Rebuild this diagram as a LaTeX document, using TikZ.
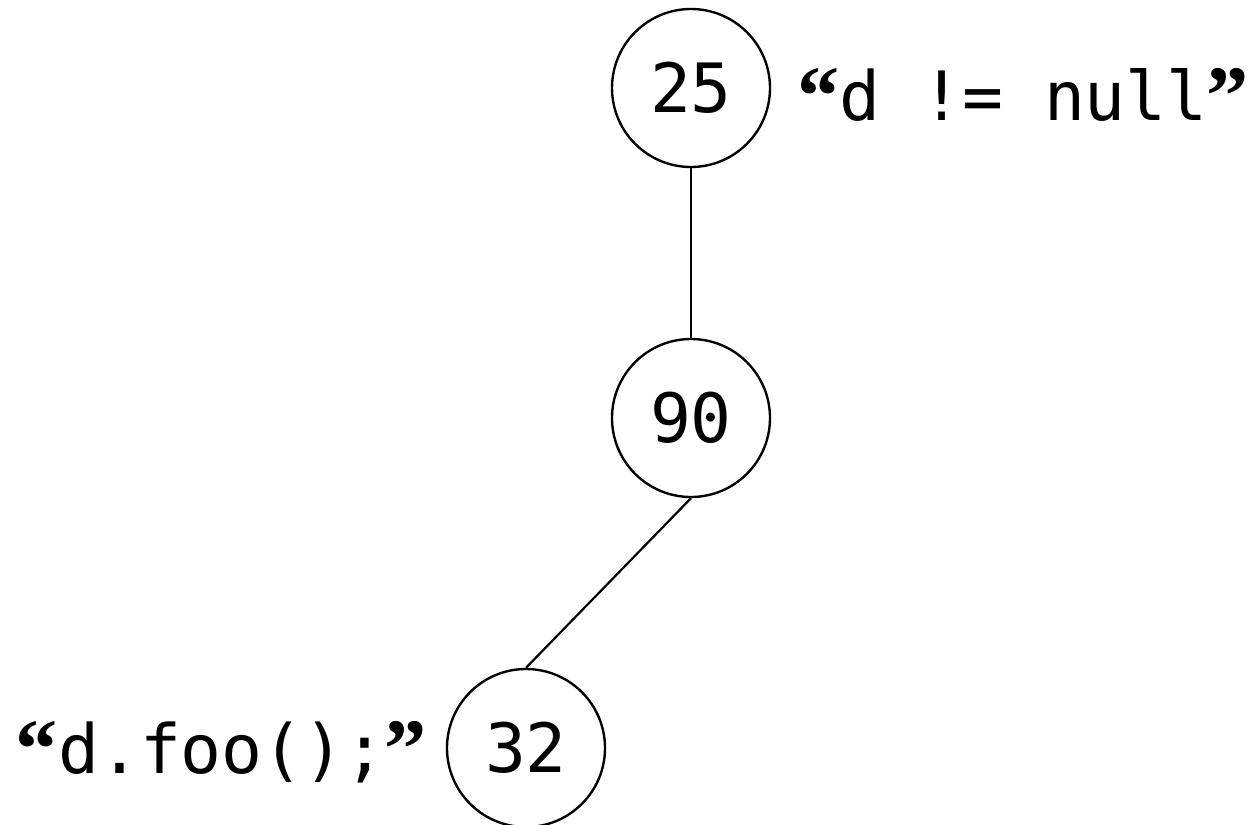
\documentclass[tikz,border=0pt]{standalone}
\usepackage{fontspec}
\newfontfamily\codefont{DejaVu Sans Mono}
\newfontfamily\quotefont{Liberation Serif}
\usetikzlibrary{positioning}

% curly quotes, each in one mono cell
\newcommand\qopen{\makebox[0.602em][r]{\raisebox{-0.06em}{\quotefont\bfseries\fontsize{48}{48}\selectfont “}}}
\newcommand\qclose{\makebox[0.602em][r]{\raisebox{-0.06em}{\quotefont\bfseries\fontsize{48}{48}\selectfont ”}}}

\tikzset{
  treenode/.style={circle, draw, line width=1.35pt, minimum size=3.16cm, inner sep=0pt,
                   font=\codefont\fontsize{38.7}{46}\selectfont},
  codelabel/.style={inner sep=0pt, font=\codefont\fontsize{38.7}{46}\selectfont},
  edge/.style={line width=1.25pt}
}

\begin{document}
\begin{tikzpicture}

  \useasboundingbox (-13.82,1.76) rectangle (11.36,-14.72);

  \node[treenode] (n25) at (0,0) {25};
  \node[treenode] (n90) at (0,-6.6) {90};
  \node[treenode] (n32) at (-3.3,-13.2) {32};

  \node[codelabel, anchor=base west] (cond) at (2.14,-0.64) {\qopen d != null\qclose};
  \node[codelabel, anchor=base east] (call) at (-5.28,-13.7) {\qopen d.foo();\qclose};

  \draw[edge] (n25) -- (n90);
  \draw[edge] (n90.south) -- (n32.north);

\end{tikzpicture}
\end{document}
